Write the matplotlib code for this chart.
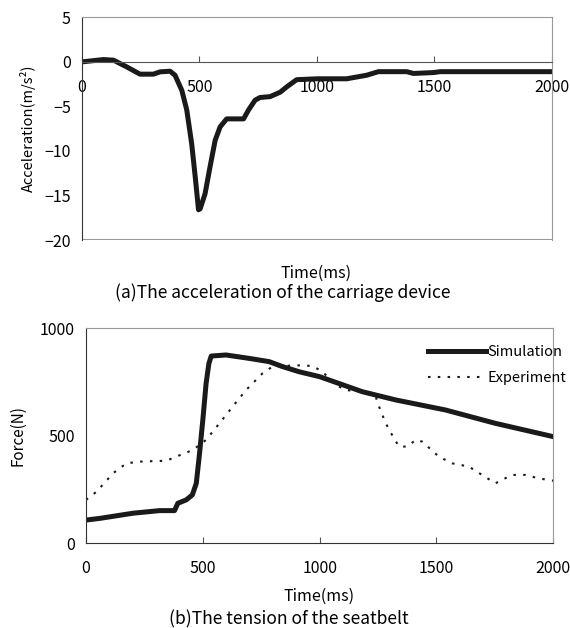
import matplotlib
matplotlib.use("Agg")
from matplotlib import pyplot as plt
import numpy as np

plt.rcParams['font.family'] = ['Noto Sans CJK JP', 'DejaVu Sans']

# (a) carriage acceleration
acc_t = [0, 91, 134, 190, 247, 304, 332, 375, 396, 425, 446, 467, 482, 496, 503,
         524, 545, 567, 588, 616, 645, 688, 709, 737, 758, 801, 844, 872, 914,
         1000, 1127, 1212, 1262, 1383, 1411, 1497, 1525, 2000]
acc_a = [0, 0.26, 0.19, -0.56, -1.38, -1.38, -1.12, -1.05, -1.5, -3.2, -5.4, -9.2,
         -12.9, -16.6, -16.5, -14.8, -11.8, -8.8, -7.3, -6.4, -6.4, -6.4, -5.4,
         -4.3, -4.0, -3.9, -3.4, -2.8, -2.0, -1.9, -1.9, -1.5, -1.1, -1.1, -1.3,
         -1.2, -1.1, -1.1]

# (b) seatbelt tension
sim_t = [0, 60, 202, 315, 379, 393, 429, 455, 472, 486, 500, 514, 526, 536, 599,
         699, 784, 841, 912, 1000, 1183, 1325, 1539, 1752, 2000]
sim_f = [108, 116, 140, 152, 152, 186, 202, 225, 279, 419, 574, 744, 837, 871, 876,
         860, 845, 822, 798, 775, 705, 667, 620, 558, 496]

exp_t = [0, 45, 116, 173, 230, 344, 386, 457, 514, 571, 628, 685, 756, 798, 900,
         970, 1012, 1070, 1112, 1183, 1240, 1254, 1283, 1318, 1340, 1375, 1411,
         1439, 1510, 1567, 1638, 1695, 1752, 1823, 1880, 1937, 2000]
exp_f = [202, 240, 326, 372, 380, 384, 403, 434, 481, 558, 636, 713, 791, 822, 828,
         825, 798, 736, 713, 705, 682, 636, 558, 488, 450, 450, 481, 473, 403, 372,
         357, 318, 279, 318, 318, 302, 291]

grey = '#999999'
fig = plt.figure(figsize=(5.7, 6.28), dpi=100)

# ---- top panel
ax1 = fig.add_axes([0.1439, 0.6178, 0.824, 0.3546])
ax1.plot(acc_t, acc_a, color='#1a1a1a', lw=3.6, solid_joinstyle='round')
ax1.set_xlim(0, 2000)
ax1.set_ylim(-20, 5)
ax1.set_xticks([0, 500, 1000, 1500, 2000])
ax1.set_yticks([5, 0, -5, -10, -15, -20])
ax1.set_yticklabels(['5', '0', '−5', '−10', '−15', '−20'])
ax1.spines['bottom'].set_position(('data', 0))
ax1.spines['bottom'].set_color('#555555')
ax1.spines['left'].set_color('#333333')
for s in ['top', 'right']:
    ax1.spines[s].set_color(grey)
ax1.axhline(-20, color=grey, lw=1.5)
ax1.tick_params(axis='x', direction='in', length=4, pad=12, colors='#555555',
                labelcolor='black', labelsize=11.5)
ax1.tick_params(axis='y', length=0, pad=8, labelsize=11.5)
ax1.set_ylabel('Acceleration(m/s²)', fontsize=10.5, labelpad=6)
fig.text(0.5553, 0.5653, 'Time(ms)', ha='center', va='center', fontsize=11.5)
fig.text(0.4956, 0.5334, '(a)The acceleration of the carriage device', ha='center',
         va='center', fontsize=12.6)

# ---- bottom panel
ax2 = fig.add_axes([0.1509, 0.1349, 0.8198, 0.3423])
ax2.plot(sim_t, sim_f, color='#1a1a1a', lw=3.6, label='Simulation')
ax2.plot(exp_t, exp_f, color='#1a1a1a', lw=1.5, ls=(0, (1.2, 3.5)), label='Experiment')
ax2.set_xlim(0, 2000)
ax2.set_ylim(0, 1000)
ax2.set_xticks([0, 500, 1000, 1500, 2000])
ax2.set_yticks([0, 500, 1000])
ax2.spines['left'].set_color('#333333')
ax2.spines['bottom'].set_color('#333333')
for s in ['top', 'right']:
    ax2.spines[s].set_color(grey)
ax2.tick_params(axis='x', direction='in', length=4, pad=12, colors='#555555',
                labelcolor='black', labelsize=11.5)
ax2.tick_params(axis='y', length=0, pad=8, labelsize=11.5)
ax2.set_ylabel('Force(N)', fontsize=11, labelpad=10)
leg = ax2.legend(loc='upper right', frameon=False, fontsize=10.5, handlelength=4,
                 handletextpad=0.1, borderaxespad=0.3, labelspacing=0.8,
                 bbox_to_anchor=(1.05, 0.97))
fig.text(0.5596, 0.0510, 'Time(ms)', ha='center', va='center', fontsize=11.5)
fig.text(0.507, 0.0139, '(b)The tension of the seatbelt', ha='center', va='center',
         fontsize=12.6)

fig.savefig('out.png', dpi=100)
